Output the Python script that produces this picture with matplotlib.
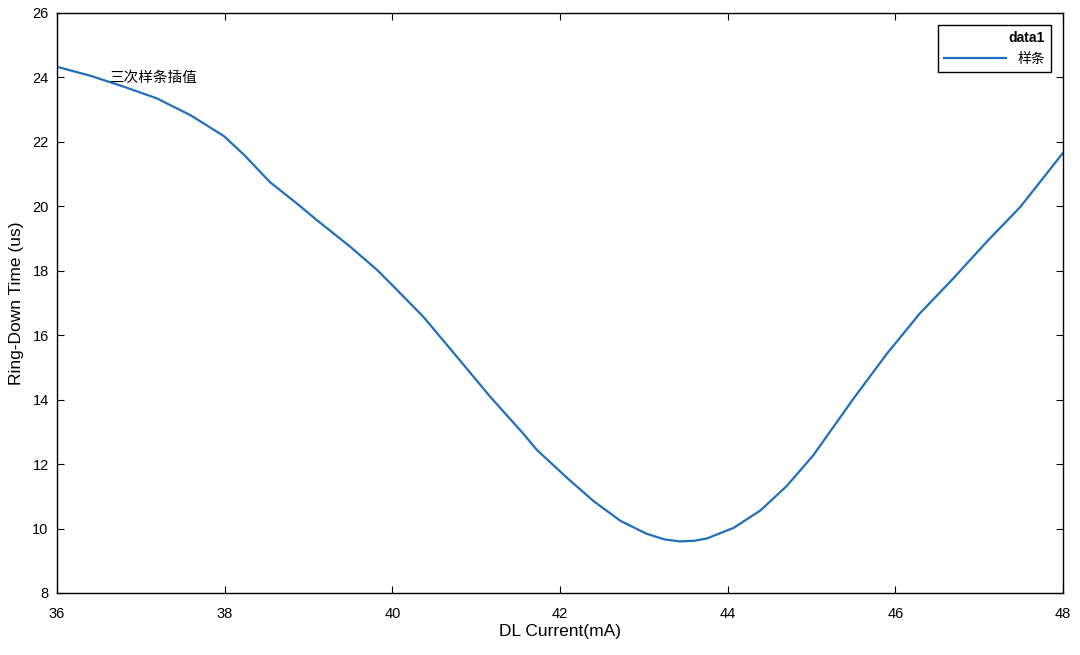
import numpy as np
import matplotlib
matplotlib.use('Agg')
import matplotlib.pyplot as plt

plt.rcParams['font.family'] = ['Liberation Sans', 'Noto Sans CJK SC', 'DejaVu Sans']
plt.rcParams['axes.unicode_minus'] = False

# 读图得到的曲线点
current = [36.0, 36.4, 36.8, 37.19, 37.59, 37.99, 38.23, 38.54, 38.86, 39.10, 39.50,
           39.82, 40.0, 40.37, 40.77, 41.17, 41.56, 41.72, 42.08, 42.40, 42.72, 43.03,
           43.25, 43.43, 43.60, 43.75, 44.07, 44.39, 44.70, 45.02, 45.50, 45.90, 46.29,
           46.69, 47.09, 47.49, 48.0]
ring_down = [24.33, 24.05, 23.71, 23.35, 22.83, 22.18, 21.60, 20.75, 20.09, 19.57, 18.74,
             18.02, 17.55, 16.57, 15.33, 14.08, 12.95, 12.45, 11.58, 10.85, 10.24, 9.84,
             9.66, 9.60, 9.62, 9.69, 10.02, 10.56, 11.31, 12.27, 14.03, 15.43, 16.67,
             17.76, 18.90, 19.98, 21.66]

fig = plt.figure(figsize=(10.8, 6.55), dpi=100)
ax = fig.add_axes([0.0528, 0.0947, 0.9315, 0.8855])

ax.plot(current, ring_down, color='#1f6fbd', linewidth=1.6, label='样条',
        solid_joinstyle='round')
ax.text(36.62, 23.98, '三次样条插值', fontsize=10.5, va='center', ha='left',
        family=['Noto Sans CJK SC'])

ax.set_xlim(36, 48)
ax.set_ylim(8, 26)
ax.set_xticks(np.arange(36, 49, 2))
ax.set_yticks(np.arange(8, 27, 2))
ax.tick_params(direction='in', top=True, right=True, labelsize=10.5, length=5)
ax.tick_params(axis='x', pad=10)
ax.tick_params(axis='y', pad=6)
for s in ax.spines.values():
    s.set_linewidth(1.0)

ax.set_xlabel('DL Current(mA)', fontsize=12.5, labelpad=2)
ax.set_ylabel('Ring-Down Time (us)', fontsize=12.5, labelpad=6)

leg = ax.legend(title='data1', loc='upper right', fontsize=10,
                title_fontproperties={'weight': 'bold', 'size': 10},
                alignment='right', fancybox=False, edgecolor='black',
                framealpha=1, borderaxespad=0.9, handlelength=4.5)
leg.get_frame().set_linewidth(1.0)

fig.savefig('out.png', dpi=100)
